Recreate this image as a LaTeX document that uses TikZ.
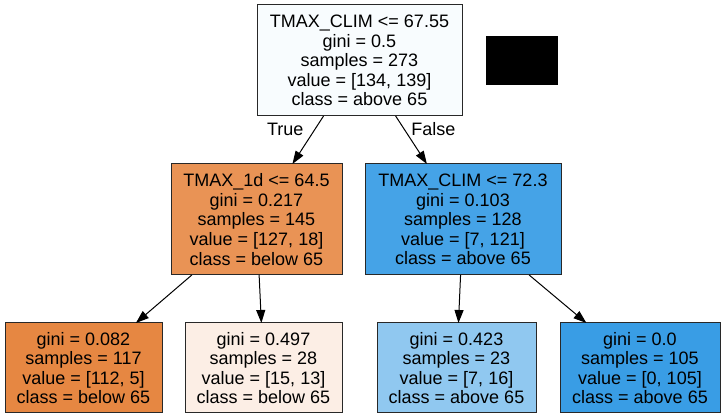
\documentclass[tikz,border=0pt]{standalone}
\usepackage{fontspec}
\setmainfont{Liberation Sans}
\usetikzlibrary{arrows.meta}
\definecolor{croot}{RGB}{248,252,254}
\definecolor{cleft}{RGB}{233,147,85}
\definecolor{cright}{RGB}{69,163,231}
\definecolor{cleafa}{RGB}{230,135,66}
\definecolor{cleafb}{RGB}{252,238,229}
\definecolor{cleafc}{RGB}{144,200,240}
\definecolor{cleafd}{RGB}{57,157,229}
\definecolor{boxline}{RGB}{40,40,40}
\begin{document}
\begin{tikzpicture}[x=1pt,y=-1pt,
  treebox/.style={draw=boxline, line width=1pt, rectangle, inner sep=0pt, outer sep=0pt,
    align=center, font=\fontsize{18}{19.6}\selectfont},
  inner/.style={treebox, minimum height=111pt},
  leaf/.style={treebox, minimum height=90pt},
  edge/.style={-{Triangle[length=13pt,width=9pt]}, line width=1pt, black},
  elabel/.style={font=\fontsize{18}{19.6}\selectfont, anchor=base, inner sep=0pt}]
\useasboundingbox (0,0) rectangle (724,419);
\fill[white] (0,0) rectangle (724,419);

\node[inner, fill=croot, minimum width=205pt] (root) at (359.5,60.5)
  {TMAX\_CLIM <= 67.55\\gini = 0.5\\samples = 273\\value = [134, 139]\\class = above 65};
\node[fill=black, inner sep=0pt, outer sep=0pt, minimum width=72pt, minimum height=49pt] (legend) at (522,60.5) {};

\node[inner, fill=cleft, minimum width=171pt] (left) at (256.5,219.5)
  {TMAX\_1d <= 64.5\\gini = 0.217\\samples = 145\\value = [127, 18]\\class = below 65};
\node[inner, fill=cright, minimum width=196pt] (right) at (463,219.5)
  {TMAX\_CLIM <= 72.3\\gini = 0.103\\samples = 128\\value = [7, 121]\\class = above 65};

\node[leaf, fill=cleafa, minimum width=157pt] (la) at (83.5,368)
  {gini = 0.082\\samples = 117\\value = [112, 5]\\class = below 65};
\node[leaf, fill=cleafb, minimum width=157pt] (lb) at (263.5,368)
  {gini = 0.497\\samples = 28\\value = [15, 13]\\class = below 65};
\node[leaf, fill=cleafc, minimum width=159pt] (lc) at (456.5,368)
  {gini = 0.423\\samples = 23\\value = [7, 16]\\class = above 65};
\node[leaf, fill=cleafd, minimum width=160pt] (ld) at (640,368)
  {gini = 0.0\\samples = 105\\value = [0, 105]\\class = above 65};

\draw[edge] (root) -- (left);
\draw[edge] (root) -- (right);
\draw[edge] (left) -- (la);
\draw[edge] (left) -- (lb);
\draw[edge] (right) -- (lc);
\draw[edge] (right) -- (ld);

\node[elabel] (ltrue) at (285.3,136) {True};
\node[elabel] (lfalse) at (433.3,136) {False};
\end{tikzpicture}
\end{document}
